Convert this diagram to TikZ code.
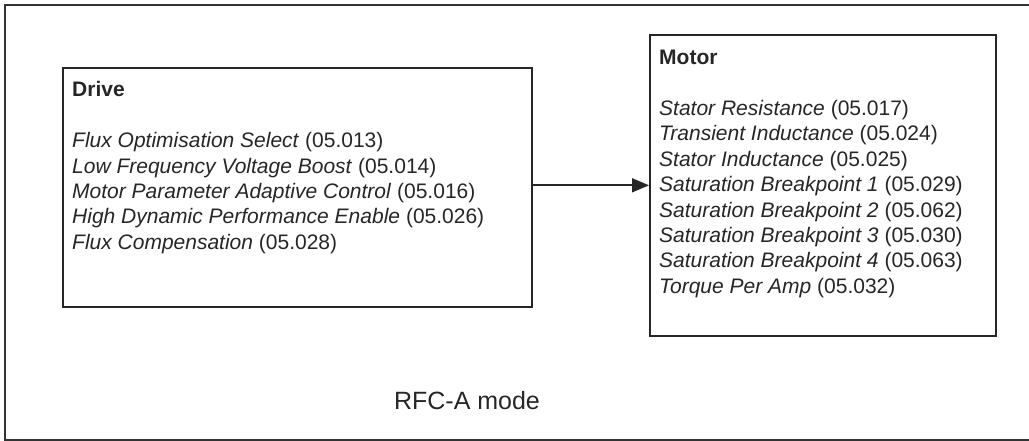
\documentclass[tikz,border=0pt]{standalone}
\usepackage{fontspec}
\setmainfont{Liberation Sans}
\usetikzlibrary{arrows.meta,positioning}
\newcommand{\parline}[2]{\textit{#1} (#2)}
\begin{document}
\begin{tikzpicture}[x=1pt,y=-1pt,
  frame/.style={line width=1.6pt,draw=black!80},
  block/.style={draw=black!85,line width=1.6pt,anchor=north west,inner sep=0pt},
  blocktext/.style={anchor=north west,align=left,inner sep=0pt,
    font=\fontsize{21}{25.4}\selectfont,text=black!85}]
  \useasboundingbox (0,0) rectangle (1029,441);
  \draw [frame] (1029,5) -- (5,5) -- (5,440) -- (1029,440);
  \node [block,minimum width=469pt,minimum height=239pt] (drive) at (62,67) {};
  \node [block,minimum width=346pt,minimum height=301pt] (motor) at (649,34) {};
  \node [blocktext,below right=14.5pt and 10pt of drive.north west] (drivetext) {%
    \textbf{Drive}\\[25.4pt]
    \parline{Flux Optimisation Select}{05.013}\\
    \parline{Low Frequency Voltage Boost}{05.014}\\
    \parline{Motor Parameter Adaptive Control}{05.016}\\
    \parline{High Dynamic Performance Enable}{05.026}\\
    \parline{Flux Compensation}{05.028}};
  \node [blocktext,below right=16pt and 10pt of motor.north west] (motortext) {%
    \textbf{Motor}\\[25.4pt]
    \parline{Stator Resistance}{05.017}\\
    \parline{Transient Inductance}{05.024}\\
    \parline{Stator Inductance}{05.025}\\
    \parline{Saturation Breakpoint 1}{05.029}\\
    \parline{Saturation Breakpoint 2}{05.062}\\
    \parline{Saturation Breakpoint 3}{05.030}\\
    \parline{Saturation Breakpoint 4}{05.063}\\
    \parline{Torque Per Amp}{05.032}};
  \node [font=\fontsize{25}{30}\selectfont,text=black!85,anchor=base] (mode) at (467,409) {RFC-A mode};
  \draw [line width=1.6pt,draw=black!85,-{Triangle[length=17pt,width=14pt]}]
    (drive.east |- motor.west) -- (motor.west);
\end{tikzpicture}
\end{document}
